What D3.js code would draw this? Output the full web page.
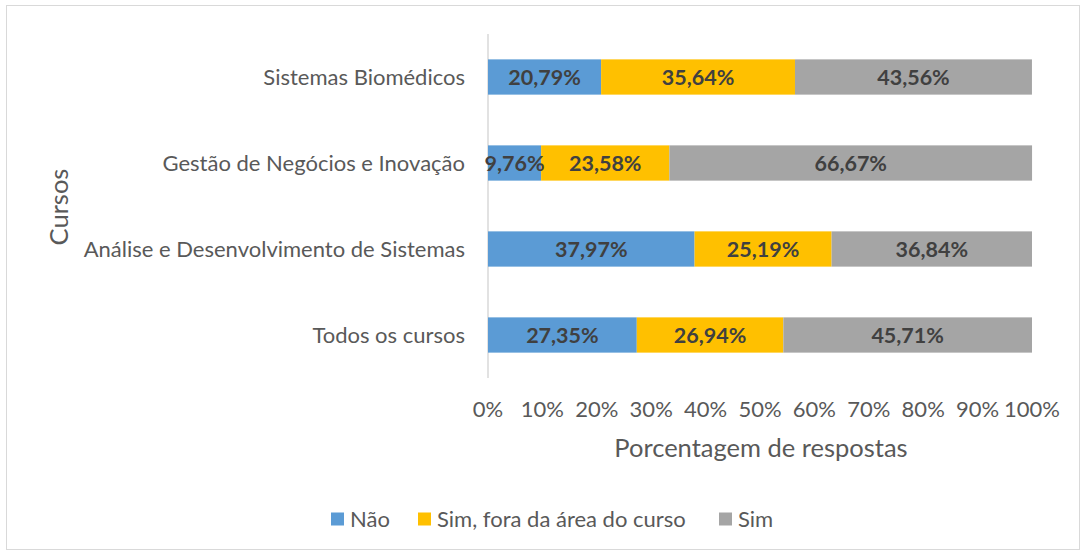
<!DOCTYPE html>
<html lang="pt">
<head>
    <meta charset="UTF-8">
    <title>Cursos - Porcentagem de respostas</title>
    <script src="https://d3js.org/d3.v7.min.js"></script>
    <style>
        body { margin: 0; background: #fff; }
        svg text { font-family: Lato, "Open Sans", sans-serif; }
        .tick_text { fill: #595959; font-size: 22px; }
        .bar_label { fill: #404040; font-size: 21.5px; font-weight: bold; }
    </style>
</head>
<body>
<svg width="1083" height="554"></svg>

<script>
    // data
    const cursos = ["Sistemas Biomédicos", "Gestão de Negócios e Inovação",
        "Análise e Desenvolvimento de Sistemas", "Todos os cursos"];
    const nao = [20.79, 9.76, 37.97, 27.35];
    const simFora = [35.64, 23.58, 25.19, 26.94];
    const sim = [43.56, 66.67, 36.84, 45.71];
    const series = ["Não", "Sim, fora da área do curso", "Sim"];
    const xTicks = [0, 10, 20, 30, 40, 50, 60, 70, 80, 90, 100];

    const colors = d3.scaleOrdinal().domain(series).range(["#5b9bd5", "#ffc000", "#a5a5a5"]);

    let svg = d3.select("svg");

    // chart frame
    svg.append("rect")
        .attr("x", 6.5).attr("y", 5.5)
        .attr("width", 1073).attr("height", 544)
        .attr("fill", "white").attr("stroke", "#d9d9d9");

    let x = d3.scaleLinear().domain([0, 100]).range([488, 1032]);
    let y = d3.scaleBand().domain(cursos).range([34, 378])
        .paddingInner(0.59).paddingOuter(0.295);

    // vertical axis line (under the bars and labels)
    svg.append("line")
        .attr("x1", x(0)).attr("x2", x(0))
        .attr("y1", 34).attr("y2", 378)
        .attr("stroke", "#d9d9d9").attr("stroke-width", 1.5);

    // stack the three series
    let rows = cursos.map((c, i) => ({curso: c, "Não": nao[i], "Sim, fora da área do curso": simFora[i], "Sim": sim[i]}));
    let stacked = d3.stack().keys(series)(rows);

    let groups = svg.append("g").selectAll("g")
        .data(stacked).enter().append("g")
        .attr("fill", d => colors(d.key));

    groups.selectAll("rect")
        .data(d => d).enter().append("rect")
        .attr("x", d => x(d[0]))
        .attr("y", d => y(d.data.curso))
        .attr("width", d => x(d[1]) - x(d[0]))
        .attr("height", y.bandwidth());

    // labels on top of all bars
    svg.append("g").selectAll("g")
        .data(stacked).enter().append("g")
        .selectAll("text")
        .data(d => d).enter().append("text")
        .attr("class", "bar_label")
        .attr("x", d => (x(d[0]) + x(d[1])) / 2)
        .attr("y", d => y(d.data.curso) + y.bandwidth() / 2)
        .attr("dy", "0.35em")
        .attr("text-anchor", "middle")
        .text(d => (d[1] - d[0]).toFixed(2).replace(".", ",") + "%");

    // category labels
    svg.append("g").selectAll("text")
        .data(cursos).enter().append("text")
        .attr("class", "tick_text")
        .attr("x", 465)
        .attr("y", d => y(d) + y.bandwidth() / 2)
        .attr("dy", "0.35em")
        .attr("text-anchor", "end")
        .text(d => d);

    // x tick labels
    svg.append("g").selectAll("text")
        .data(xTicks).enter().append("text")
        .attr("class", "tick_text")
        .attr("x", d => x(d))
        .attr("y", 409)
        .attr("dy", "0.35em")
        .attr("text-anchor", "middle")
        .text(d => d + "%");

    // axis titles
    svg.append("text")
        .attr("x", x(50) + 1).attr("y", 448)
        .attr("dy", "0.35em")
        .attr("text-anchor", "middle")
        .attr("fill", "#595959").attr("font-size", "25.5px")
        .text("Porcentagem de respostas");

    svg.append("text")
        .attr("transform", "translate(59,207) rotate(-90)")
        .attr("dy", "0.35em")
        .attr("text-anchor", "middle")
        .attr("fill", "#595959").attr("font-size", "25.5px")
        .text("Cursos");

    // legend
    let legendX = [331, 418, 719];
    let legend = svg.append("g").selectAll("g")
        .data(series).enter().append("g")
        .attr("transform", (d, i) => "translate(" + legendX[i] + ",519)");
    legend.append("rect")
        .attr("x", 0).attr("y", -6.5)
        .attr("width", 13).attr("height", 13)
        .attr("fill", d => colors(d));
    legend.append("text")
        .attr("class", "tick_text")
        .attr("x", 19).attr("dy", "0.35em")
        .text(d => d);
</script>
</body>
</html>
